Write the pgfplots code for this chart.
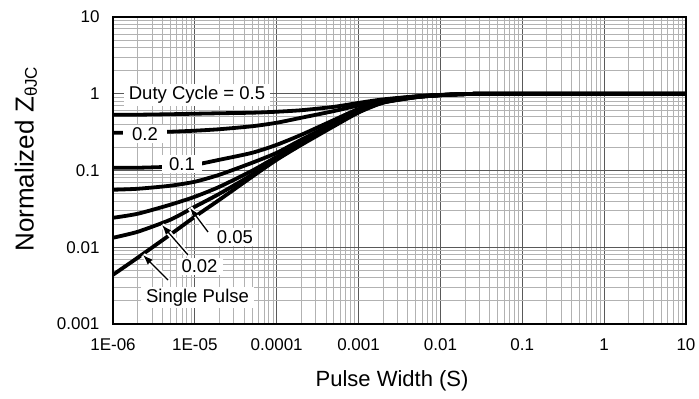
\documentclass[border=0pt]{standalone}
\usepackage{fontspec}
\setmainfont{Liberation Sans}
\usepackage{pgfplots}
\pgfplotsset{compat=1.18}
\usetikzlibrary{arrows.meta}
\begin{document}
\begin{tikzpicture}
\begin{axis}[
  name=ax, at={(0,0)}, anchor=south west,
  scale only axis, width=573pt, height=307pt,
  xmode=log, ymode=log,
  xmin=1e-6, xmax=10, ymin=1e-3, ymax=10,
  xtick={1e-6,1e-5,1e-4,1e-3,1e-2,1e-1,1,10},
  xticklabels={1E-06,1E-05,0.0001,0.001,0.01,0.1,1,10},
  ytick={1e-3,1e-2,1e-1,1,10},
  yticklabels={0.001,0.01,0.1,1,10},
  minor xtick={2e-6,3e-6,4e-6,5e-6,6e-6,7e-6,8e-6,9e-6,
               2e-5,3e-5,4e-5,5e-5,6e-5,7e-5,8e-5,9e-5,
               2e-4,3e-4,4e-4,5e-4,6e-4,7e-4,8e-4,9e-4,
               2e-3,3e-3,4e-3,5e-3,6e-3,7e-3,8e-3,9e-3,
               2e-2,3e-2,4e-2,5e-2,6e-2,7e-2,8e-2,9e-2,
               2e-1,3e-1,4e-1,5e-1,6e-1,7e-1,8e-1,9e-1,
               2,3,4,5,6,7,8,9},
  minor ytick={2e-3,3e-3,4e-3,5e-3,6e-3,7e-3,8e-3,9e-3,
               2e-2,3e-2,4e-2,5e-2,6e-2,7e-2,8e-2,9e-2,
               2e-1,3e-1,4e-1,5e-1,6e-1,7e-1,8e-1,9e-1,
               2,3,4,5,6,7,8,9},
  grid=both,
  major grid style={draw=black!65, line width=0.9pt},
  minor grid style={draw=black!30, line width=0.9pt},
  major tick length=0pt, minor tick length=0pt,
  axis line style={line width=1.3pt, black},
  /pgf/number format/assume math mode=true,
  tick label style={font=\fontsize{17}{19}\selectfont},
  xticklabel style={yshift=-11pt},
  yticklabel style={xshift=-10pt},
  xlabel={Pulse Width (S)},
  ylabel={Normalized Z{\fontsize{17}{18}\selectfont\raisebox{-0.35ex}{θJC}}},
  every axis x label/.style={at={(rel axis cs:0.487,-0.186)}, anchor=center, font=\fontsize{22}{24}\selectfont},
  every axis y label/.style={at={(rel axis cs:-0.152,0.537)}, rotate=90, anchor=center, font=\fontsize{26}{28}\selectfont},
]
% Duty 0.5
\addplot[black, line width=3.8pt, smooth, tension=0.4] coordinates {
 (1e-6,0.533) (2e-6,0.533) (5e-6,0.541) (1e-5,0.549) (2e-5,0.557) (5e-5,0.566)
 (1e-4,0.583) (2e-4,0.610) (5e-4,0.675) (1e-3,0.76) (2e-3,0.845) (5e-3,0.925)
 (1e-2,0.965) (2e-2,0.99) (5e-2,1) (10,1)};
% Duty 0.2
\addplot[black, line width=3.8pt, smooth, tension=0.4] coordinates {
 (1e-6,0.310) (2e-6,0.310) (5e-6,0.320) (1e-5,0.330) (2e-5,0.345) (5e-5,0.377)
 (1e-4,0.419) (2e-4,0.487) (5e-4,0.595) (1e-3,0.705) (2e-3,0.825) (5e-3,0.92)
 (1e-2,0.962) (2e-2,0.99) (5e-2,1) (10,1)};
% Duty 0.1
\addplot[black, line width=3.8pt, smooth, tension=0.4] coordinates {
 (1e-6,0.1086) (2e-6,0.1086) (5e-6,0.112) (1e-5,0.119) (2e-5,0.138) (5e-5,0.170)
 (1e-4,0.216) (2e-4,0.292) (5e-4,0.455) (1e-3,0.635) (2e-3,0.80) (5e-3,0.915)
 (1e-2,0.96) (2e-2,0.99) (5e-2,1) (10,1)};
% Duty 0.05
\addplot[black, line width=3.8pt, smooth, tension=0.4] coordinates {
 (1e-6,0.0561) (2e-6,0.0578) (5e-6,0.0633) (1e-5,0.0714) (2e-5,0.0881) (5e-5,0.126)
 (1e-4,0.170) (2e-4,0.252) (5e-4,0.415) (1e-3,0.605) (2e-3,0.785) (5e-3,0.91)
 (1e-2,0.96) (2e-2,0.99) (5e-2,1) (10,1)};
% Duty 0.02
\addplot[black, line width=3.8pt, smooth, tension=0.4] coordinates {
 (1e-6,0.0242) (2e-6,0.0273) (5e-6,0.0358) (1e-5,0.0455) (2e-5,0.0614) (5e-5,0.0992)
 (1e-4,0.151) (2e-4,0.230) (5e-4,0.395) (1e-3,0.585) (2e-3,0.775) (5e-3,0.905)
 (1e-2,0.958) (2e-2,0.99) (5e-2,1) (10,1)};
% Duty 0.01
\addplot[black, line width=3.8pt, smooth, tension=0.4] coordinates {
 (1e-6,0.0133) (2e-6,0.0159) (5e-6,0.0228) (1e-5,0.0337) (2e-5,0.0498) (5e-5,0.0881)
 (1e-4,0.142) (2e-4,0.223) (5e-4,0.388) (1e-3,0.578) (2e-3,0.77) (5e-3,0.90)
 (1e-2,0.958) (2e-2,0.99) (5e-2,1) (10,1)};
% Single pulse
\addplot[black, line width=3.8pt, smooth, tension=0.4] coordinates {
 (1e-6,0.00438) (2e-6,0.0073) (5e-6,0.0146) (1e-5,0.0250) (2e-5,0.0416) (5e-5,0.0829)
 (1e-4,0.138) (2e-4,0.216) (5e-4,0.378) (1e-3,0.57) (2e-3,0.765) (5e-3,0.90)
 (1e-2,0.958) (2e-2,0.99) (5e-2,1) (10,1)};

% labels
\begin{scope}[every node/.style={fill=white, inner ysep=2pt, inner xsep=5pt, font=\fontsize{18.5}{20}\selectfont}]
\node at (rel axis cs:0.1466,0.7459) {Duty Cycle = 0.5};
\node[inner xsep=9pt] at (rel axis cs:0.0558,0.6189) {0.2};
\node[inner xsep=7pt] at (rel axis cs:0.1204,0.5212) {0.1};
\node at (rel axis cs:0.2129,0.2834) {0.05};
\node at (rel axis cs:0.1510,0.1873) {0.02};
\node at (rel axis cs:0.1475,0.0863) {Single Pulse};
\end{scope}
% arrows with white halo
\draw[white, line width=5pt] (rel axis cs:0.1658,0.2997) -- (rel axis cs:0.1344,0.3779);
\draw[white, line width=5pt] (rel axis cs:0.1309,0.2248) -- (rel axis cs:0.0855,0.3225);
\draw[white, line width=5pt] (rel axis cs:0.0960,0.1433) -- (rel axis cs:0.0524,0.2248);
\draw[black, line width=1.3pt, -{Latex[length=10pt,width=7pt]}] (rel axis cs:0.1658,0.2997) -- (rel axis cs:0.1344,0.3779);
\draw[black, line width=1.3pt, -{Latex[length=10pt,width=7pt]}] (rel axis cs:0.1309,0.2248) -- (rel axis cs:0.0855,0.3225);
\draw[black, line width=1.3pt, -{Latex[length=10pt,width=7pt]}] (rel axis cs:0.0960,0.1433) -- (rel axis cs:0.0524,0.2248);
\end{axis}
\pgfresetboundingbox
\path[use as bounding box] (-113pt,-75pt) rectangle (586pt,324pt);
\end{tikzpicture}
\end{document}
